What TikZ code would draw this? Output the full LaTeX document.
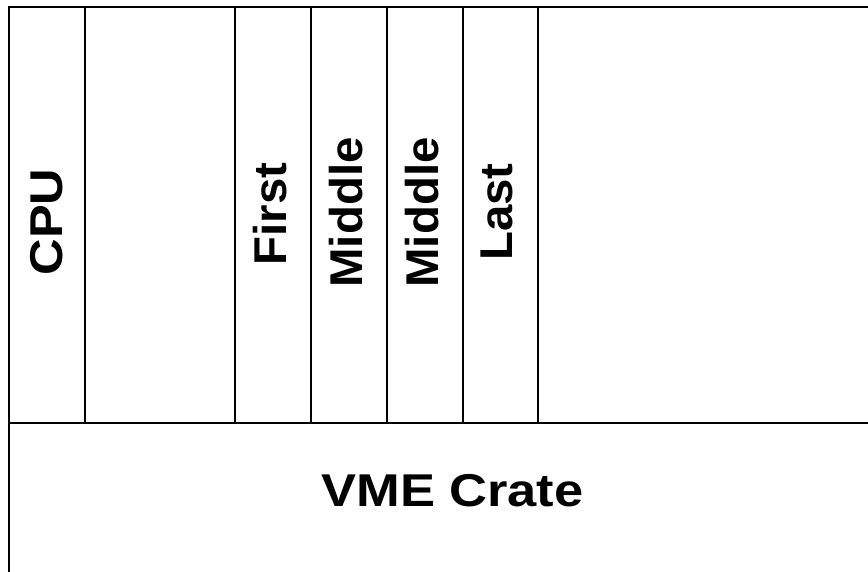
\documentclass[tikz,border=0pt]{standalone}
\usepackage{fontspec}
\setmainfont{Liberation Sans}
\newfontfamily\slotfont{Liberation Sans}[FakeStretch=1.03]
\newfontfamily\cpufont{Liberation Sans}[FakeStretch=1.1]
\newfontfamily\cratefont{Liberation Sans}[FakeStretch=1.14]
\usetikzlibrary{positioning}
\tikzset{frame/.style={line width=2.4pt,line cap=rect},
         slotlabel/.style={rotate=90,inner sep=0pt,font=\slotfont\bfseries\fontsize{46}{46}\selectfont},
         cratelabel/.style={inner sep=0pt,font=\cratefont\bfseries\fontsize{46}{46}\selectfont}
}

\begin{document}
\begin{tikzpicture}[x=1pt,y=-1pt]
\useasboundingbox (0,0) rectangle (868,571);
\clip (0,0) rectangle (868,571);

% crate outline and backplane
\coordinate (tl) at (9,7);
\coordinate (tr) at (880,7);
\coordinate (bl) at (9,590);
\coordinate (pl) at (9,423);
\coordinate (pr) at (880,423);
\draw[frame] (tr)--(tl)--(bl);
\draw[frame] (pl)--(pr);

% slot walls
\draw[frame] (85,7)--(85,423);
\draw[frame] (235,7)--(235,423);
\draw[frame] (311,7)--(311,423);
\draw[frame] (387,7)--(387,423);
\draw[frame] (463,7)--(463,423);
\draw[frame] (538,7)--(538,423);

% slot labels
\node[slotlabel,font=\cpufont\bfseries\fontsize{46}{46}\selectfont] (cpu) at (46.5,222) {CPU};
\node[slotlabel] (first) at (270,214) {First};
\node[slotlabel] (midA) at (346,212.5) {Middle};
\node[slotlabel] (midB) at (422,212.5) {Middle};
\node[slotlabel] (last) at (496.5,212) {Last};
\node[cratelabel] (crate) at (452.5,491) {VME Crate};

\end{tikzpicture}
\end{document}
